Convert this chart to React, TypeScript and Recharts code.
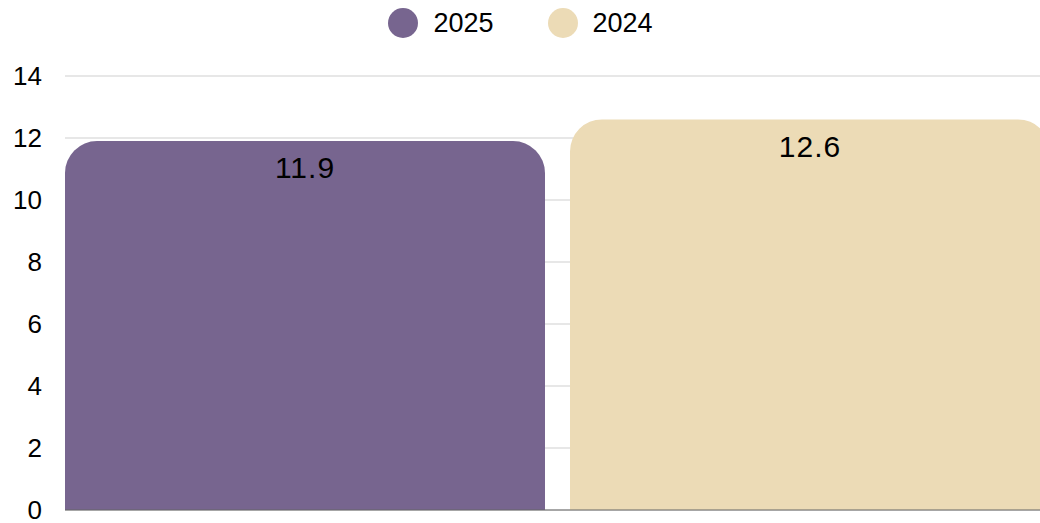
import React from "react";
import { BarChart, Bar, XAxis, YAxis, CartesianGrid, Legend, LabelList } from "recharts";

const categories = [""];
const series2025 = [11.9];
const series2024 = [12.6];
const yTicks = [0, 2, 4, 6, 8, 10, 12, 14];

const data = categories.map((c, i) => ({ name: c, y2025: series2025[i], y2024: series2024[i] }));

const FONT = "'Liberation Sans', Arial, Helvetica, sans-serif";
const PURPLE = "#77658F";
const BEIGE = "#ECDBB6";

const legendItems = [
  { label: "2025", color: PURPLE },
  { label: "2024", color: BEIGE },
];

const LegendContent = () => (
  <div
    style={{
      display: "flex",
      justifyContent: "center",
      alignItems: "center",
      height: 46,
      fontFamily: FONT,
      fontSize: 27,
      color: "#000",
    }}
  >
    {legendItems.map((it, i) => (
      <div key={it.label} style={{ display: "flex", alignItems: "center", marginRight: i === 0 ? 54 : 0 }}>
        <svg width={30} height={30} style={{ marginRight: 15 }}>
          <circle cx={15} cy={15} r={15} fill={it.color} />
        </svg>
        <span>{it.label}</span>
      </div>
    ))}
  </div>
);

export default function App() {
  return (
    <div style={{ position: "fixed", left: 0, top: 0, width: 1040, height: 523, overflow: "hidden", background: "#fff" }}>
      <BarChart
        width={1050}
        height={523}
        data={data}
        margin={{ top: 30, right: 0, bottom: 0, left: 0 }}
        barCategoryGap={0}
        barGap={25}
      >
        <CartesianGrid vertical={false} stroke="#cfcfcf" />
        <XAxis dataKey="name" height={13} tick={false} tickLine={false} axisLine={{ stroke: "#666" }} />
        <YAxis
          width={65}
          domain={[0, 14]}
          ticks={yTicks}
          interval={0}
          axisLine={false}
          tickLine={false}
          tickMargin={17}
          tick={{ fill: "#000", fontSize: 26, fontFamily: FONT }}
        />
        <Legend verticalAlign="top" wrapperStyle={{ top: 0, left: 0, width: 1041 }} content={<LegendContent />} />
        <Bar dataKey="y2025" name="2025" fill={PURPLE} radius={[32, 32, 0, 0]} isAnimationActive={false}>
          <LabelList dataKey="y2025" position="insideTop" offset={16} style={{ fill: "#000", fontSize: 30, fontFamily: FONT, letterSpacing: 1 }} />
        </Bar>
        <Bar dataKey="y2024" name="2024" fill={BEIGE} radius={[32, 32, 0, 0]} isAnimationActive={false}>
          <LabelList dataKey="y2024" position="insideTop" offset={16} style={{ fill: "#000", fontSize: 30, fontFamily: FONT, letterSpacing: 1 }} />
        </Bar>
      </BarChart>
    </div>
  );
}
